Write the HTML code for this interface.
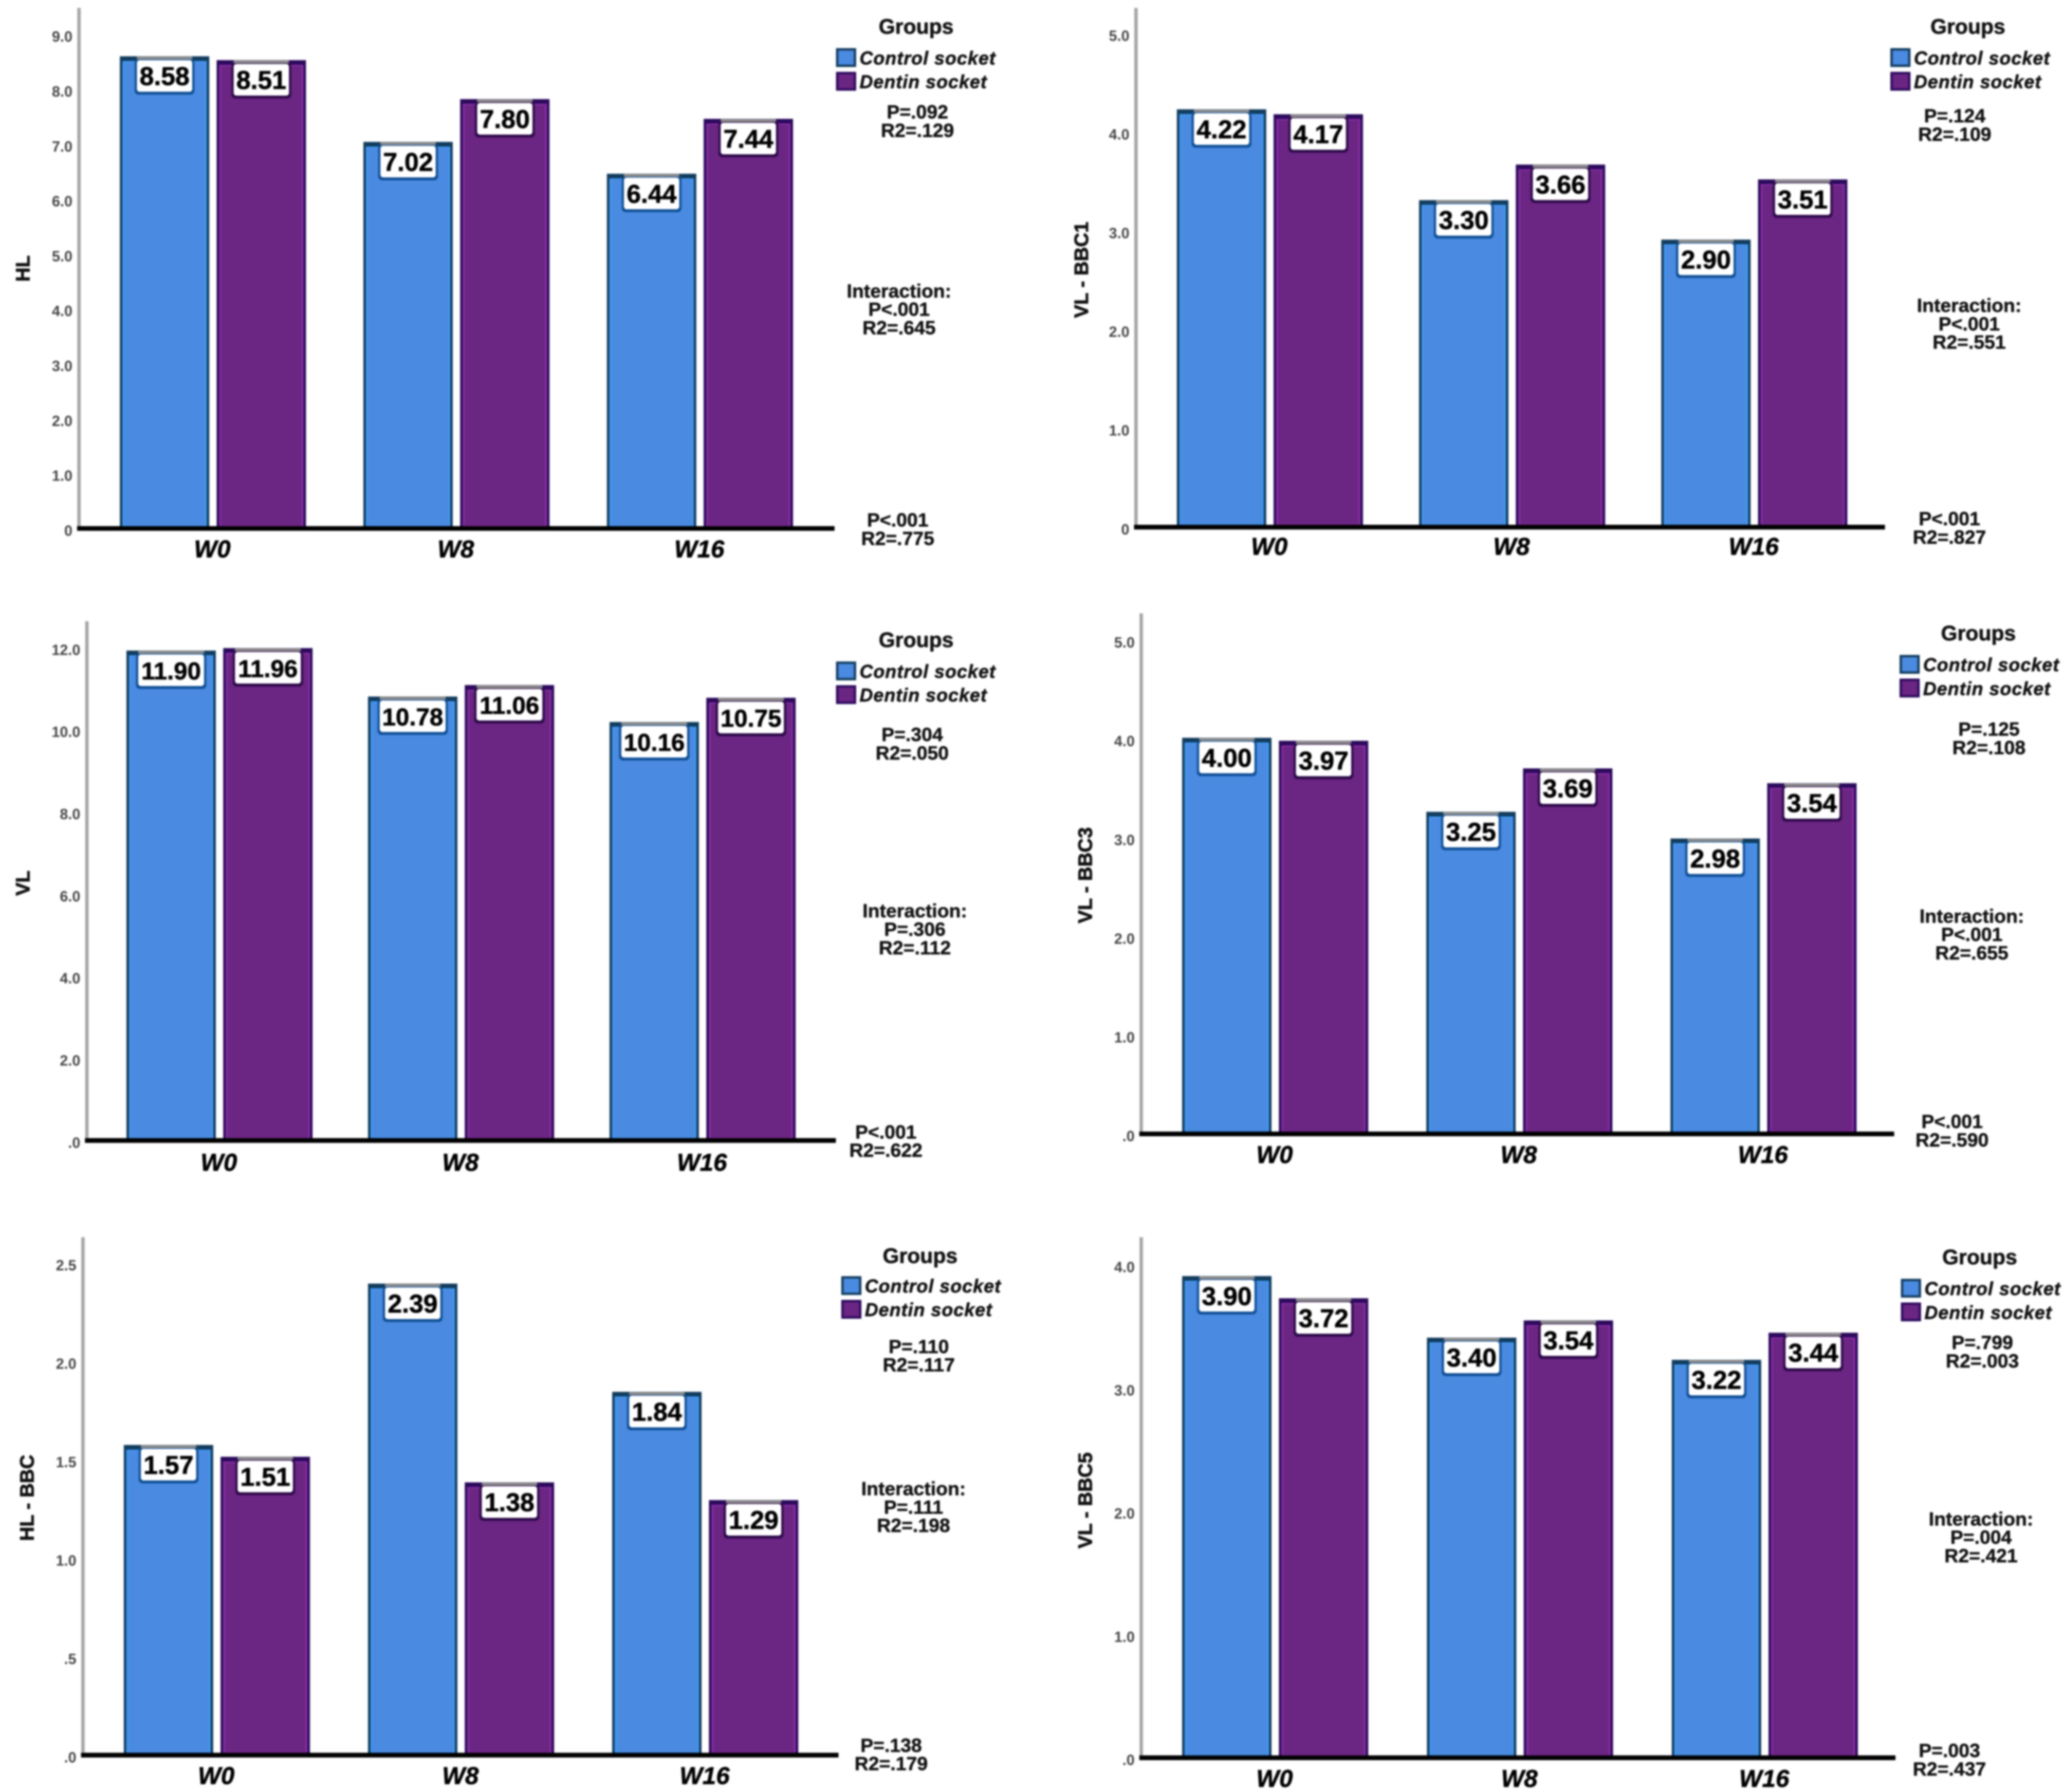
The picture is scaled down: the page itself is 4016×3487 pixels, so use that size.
<!DOCTYPE html>
<html lang="en">
<head>
<meta charset="utf-8">
<title>Bone measurements by group and time</title>
<style>
html,body{margin:0;padding:0;background:#fff;}
svg{display:block;filter:blur(1.6px);}
text{font-family:"Liberation Sans",Arial,sans-serif;fill:#111;}
</style>
</head>
<body>
<svg id="chart" xmlns="http://www.w3.org/2000/svg" width="4016" height="3487" viewBox="0 0 1568 1361.5">
<rect x="0" y="0" width="1568" height="1361.5" fill="#ffffff"></rect>
</svg>
<script>
// Shared categories
const categories = ["W0", "W8", "W16"];
const groupNames = ["Control socket", "Dentin socket"];

// HL
const hlControl = [8.58, 7.02, 6.44];
const hlDentin = [8.51, 7.80, 7.44];
const hlTickValues = [0, 1, 2, 3, 4, 5, 6, 7, 8, 9];
const hlTickLabels = ["0", "1.0", "2.0", "3.0", "4.0", "5.0", "6.0", "7.0", "8.0", "9.0"];
const hlStats = [["P=.092", "R2=.129"], ["Interaction:", "P<.001", "R2=.645"], ["P<.001", "R2=.775"]];

// VL - BBC1
const bbc1Control = [4.22, 3.30, 2.90];
const bbc1Dentin = [4.17, 3.66, 3.51];
const bbc1TickValues = [0, 1, 2, 3, 4, 5];
const bbc1TickLabels = ["0", "1.0", "2.0", "3.0", "4.0", "5.0"];
const bbc1Stats = [["P=.124", "R2=.109"], ["Interaction:", "P<.001", "R2=.551"], ["P<.001", "R2=.827"]];

// VL
const vlControl = [11.90, 10.78, 10.16];
const vlDentin = [11.96, 11.06, 10.75];
const vlTickValues = [0, 2, 4, 6, 8, 10, 12];
const vlTickLabels = [".0", "2.0", "4.0", "6.0", "8.0", "10.0", "12.0"];
const vlStats = [["P=.304", "R2=.050"], ["Interaction:", "P=.306", "R2=.112"], ["P<.001", "R2=.622"]];

// VL - BBC3
const bbc3Control = [4.00, 3.25, 2.98];
const bbc3Dentin = [3.97, 3.69, 3.54];
const bbc3TickValues = [0, 1, 2, 3, 4, 5];
const bbc3TickLabels = [".0", "1.0", "2.0", "3.0", "4.0", "5.0"];
const bbc3Stats = [["P=.125", "R2=.108"], ["Interaction:", "P<.001", "R2=.655"], ["P<.001", "R2=.590"]];

// HL - BBC
const hlBbcControl = [1.57, 2.39, 1.84];
const hlBbcDentin = [1.51, 1.38, 1.29];
const hlBbcTickValues = [0, 0.5, 1, 1.5, 2, 2.5];
const hlBbcTickLabels = [".0", ".5", "1.0", "1.5", "2.0", "2.5"];
const hlBbcStats = [["P=.110", "R2=.117"], ["Interaction:", "P=.111", "R2=.198"], ["P=.138", "R2=.179"]];

// VL - BBC5
const bbc5Control = [3.90, 3.40, 3.22];
const bbc5Dentin = [3.72, 3.54, 3.44];
const bbc5TickValues = [0, 1, 2, 3, 4];
const bbc5TickLabels = [".0", "1.0", "2.0", "3.0", "4.0"];
const bbc5Stats = [["P=.799", "R2=.003"], ["Interaction:", "P=.004", "R2=.421"], ["P=.003", "R2=.437"]];

const NS = "http://www.w3.org/2000/svg";
const root = document.getElementById("chart");

const panels = [
  { key: "hl", title: "HL", control: hlControl, dentin: hlDentin, ticks: hlTickValues, tickLabels: hlTickLabels, stats: hlStats,
    layout: { axisX: 59, top: 6, base: 401.5, unit: 41.7, end: 634, bar0: 92, stepX: 185, titleX: 17.5, titleY: 204, catY: 417,
      groupsX: 696, groupsY: 20, swatchX: 636, legY: 44, statX: [697, 683, 682], statY: [85, 221, 395] } },
  { key: "bbc1", title: "VL - BBC1", control: bbc1Control, dentin: bbc1Dentin, ticks: bbc1TickValues, tickLabels: bbc1TickLabels, stats: bbc1Stats,
    layout: { axisX: 862, top: 6, base: 400.5, unit: 75, end: 1432, bar0: 895, stepX: 184, titleX: 821.5, titleY: 205, catY: 415,
      groupsX: 1495, groupsY: 20, swatchX: 1437, legY: 44, statX: [1485, 1496, 1481], statY: [88, 232, 394] } },
  { key: "vl", title: "VL", control: vlControl, dentin: vlDentin, ticks: vlTickValues, tickLabels: vlTickLabels, stats: vlStats,
    layout: { axisX: 65, top: 472, base: 866.5, unit: 31.2, end: 635, bar0: 97, stepX: 183.5, titleX: 17.5, titleY: 671, catY: 883,
      groupsX: 696, groupsY: 486, swatchX: 636, legY: 510, statX: [693, 695, 673], statY: [558, 692, 860] } },
  { key: "bbc3", title: "VL - BBC3", control: bbc3Control, dentin: bbc3Dentin, ticks: bbc3TickValues, tickLabels: bbc3TickLabels, stats: bbc3Stats,
    layout: { axisX: 866, top: 466, base: 861.5, unit: 75, end: 1439, bar0: 899, stepX: 185.5, titleX: 824.5, titleY: 665, catY: 877,
      groupsX: 1503, groupsY: 481, swatchX: 1444, legY: 505, statX: [1511, 1498, 1483], statY: [554, 696, 852] } },
  { key: "hlbbc", title: "HL - BBC", control: hlBbcControl, dentin: hlBbcDentin, ticks: hlBbcTickValues, tickLabels: hlBbcTickLabels, stats: hlBbcStats,
    layout: { axisX: 62, top: 940, base: 1333.5, unit: 149.5, end: 637, bar0: 95, stepX: 185.5, titleX: 20.5, titleY: 1138, catY: 1349,
      groupsX: 699, groupsY: 954, swatchX: 640, legY: 977, statX: [698, 694, 677], statY: [1023, 1131, 1326] } },
  { key: "bbc5", title: "VL - BBC5", control: bbc5Control, dentin: bbc5Dentin, ticks: bbc5TickValues, tickLabels: bbc5TickLabels, stats: bbc5Stats,
    layout: { axisX: 866, top: 940, base: 1335.5, unit: 93.6, end: 1440, bar0: 899, stepX: 186, titleX: 824.5, titleY: 1140, catY: 1351,
      groupsX: 1504, groupsY: 955, swatchX: 1445, legY: 979, statX: [1506, 1505, 1481], statY: [1020, 1154, 1330] } }
];

const BAR_W = 66;
const BAR_GAP = 7.5;
const SERIES_STYLE = [
  { fill: "#4a8ae0", edge: "#123c5e", glow: "#3f9bf5", halo: "#0f4f96" },
  { fill: "#6b2583", edge: "#2c0a5c", glow: "#8a2fa6", halo: "#2c0848" }
];

function yScale(layout, value) {
  return layout.base - value * layout.unit;
}
function xBand(layout, catIndex, seriesIndex) {
  return layout.bar0 + catIndex * layout.stepX + seriesIndex * (BAR_W + BAR_GAP);
}
function node(parent, tag, attrs) {
  const el = document.createElementNS(NS, tag);
  for (const k in attrs) el.setAttribute(k, attrs[k]);
  parent.appendChild(el);
  return el;
}

function drawAxes(g, p) {
  const L = p.layout;
  const yLine = node(g, "line", { x1: L.axisX + 1, x2: L.axisX + 1, y1: L.top, y2: L.base, stroke: "#a6a4a8", "stroke-width": 2.6 });
  
  
  p.ticks.forEach(function (v, i) {
    const t = node(g, "text", { x: L.axisX - 4, y: yScale(L, v) + 5.5, "text-anchor": "end", "font-size": 11.2, "font-weight": "bold", style: "fill:#444" });
    
    
    t.textContent = p.tickLabels[i];
  });
  const title = node(g, "text", { x: 0, y: 0, "text-anchor": "middle", "font-size": 15, "font-weight": "bold", stroke: "#000", "stroke-width": 0.35,
    transform: "translate(" + (L.titleX + 5) + "," + L.titleY + ") rotate(-90)" });
  
  
  title.textContent = p.title;
}

function drawBar(g, p, catIndex, seriesIndex, value) {
  const L = p.layout;
  const S = SERIES_STYLE[seriesIndex];
  const x = xBand(L, catIndex, seriesIndex);
  const y = yScale(L, value);
  const h = L.base - y;
  const bar = node(g, "rect", { x: x, y: y, width: BAR_W, height: h, fill: S.fill, stroke: S.edge, "stroke-width": 1.9 });
  
  
  const inner = node(g, "rect", { x: x + 1.8, y: y + 3, width: BAR_W - 3.6, height: h - 4.5, fill: "none", stroke: S.glow, "stroke-width": 1.2 });
  
  
  const cap = node(g, "rect", { x: x, y: y, width: BAR_W, height: 2.6, fill: S.edge });
  
  
  const label = value.toFixed(2);
  const isLong = label.length > 4;
  const boxW = isLong ? 50 : 42;
  const boxX = x + BAR_W / 2 - boxW / 2;
  const halo = node(g, "rect", { x: boxX - 1.7, y: y + 1, width: boxW + 3.4, height: 27.2, rx: 3, fill: S.halo });
  
  
  const box = node(g, "rect", { x: boxX, y: y + 2, width: boxW, height: 24, rx: 2, fill: "#ffffff" });
  
  
  const rim = node(g, "rect", { x: boxX, y: y - 0.8, width: boxW, height: 2.2, fill: "#8c8c8c" });
  
  
  const txt = node(g, "text", { x: x + BAR_W / 2, y: y + 21, "text-anchor": "middle", "font-size": isLong ? 18.5 : 19.5, "font-weight": "bold", stroke: "#000", "stroke-width": 0.3, style: "fill:#000" });
  
  
  txt.textContent = label;
}

function drawCategories(g, p) {
  const L = p.layout;
  categories.forEach(function (c, i) {
    const cx = xBand(L, i, 0) + BAR_W + BAR_GAP / 2 - 0.5;
    const t = node(g, "text", { x: cx, y: L.catY + 6.5, "text-anchor": "middle", "font-size": 18.5, "font-weight": "bold", "font-style": "italic", stroke: "#000", "stroke-width": 0.3, style: "fill:#000" });
    
    
    t.textContent = c;
  });
  const base = node(g, "line", { x1: L.axisX - 0.5, x2: L.end, y1: L.base, y2: L.base, stroke: "#000", "stroke-width": 3.6 });
  
  
}

function drawLegend(g, p) {
  const L = p.layout;
  const head = node(g, "text", { x: L.groupsX, y: L.groupsY + 5.5, "text-anchor": "middle", "font-size": 16, "font-weight": "bold", stroke: "#000", "stroke-width": 0.25 });
  
  
  head.textContent = "Groups";
  groupNames.forEach(function (name, i) {
    const S = SERIES_STYLE[i];
    const ly = L.legY + i * 18;
    const sw = node(g, "rect", { x: L.swatchX, y: ly - 6.5, width: 13.5, height: 12.5, fill: S.fill, stroke: S.edge, "stroke-width": 1.8 });
    
    
    const t = node(g, "text", { x: L.swatchX + 17, y: ly + 5, "font-size": 14, "font-weight": "bold", "font-style": "italic", "letter-spacing": 0.4, stroke: "#000", "stroke-width": 0.25 });
    
    
    t.textContent = name;
  });
}

function drawStats(g, p) {
  const L = p.layout;
  p.stats.forEach(function (lines, blockIndex) {
    lines.forEach(function (line, lineIndex) {
      const t = node(g, "text", { x: L.statX[blockIndex], y: L.statY[blockIndex] + lineIndex * 14 + 5, "text-anchor": "middle", "font-size": 14.6, "font-weight": "bold", stroke: "#000", "stroke-width": 0.2, style: "fill:#111" });
      
      
      t.textContent = line;
    });
  });
}

panels.forEach(function (p) {
  const g = node(root, "g", {});
  
  
  drawAxes(g, p);
  p.control.forEach(function (v, i) { drawBar(g, p, i, 0, v); });
  p.dentin.forEach(function (v, i) { drawBar(g, p, i, 1, v); });
  drawCategories(g, p);
  drawLegend(g, p);
  drawStats(g, p);
});
</script>
</body>
</html>
